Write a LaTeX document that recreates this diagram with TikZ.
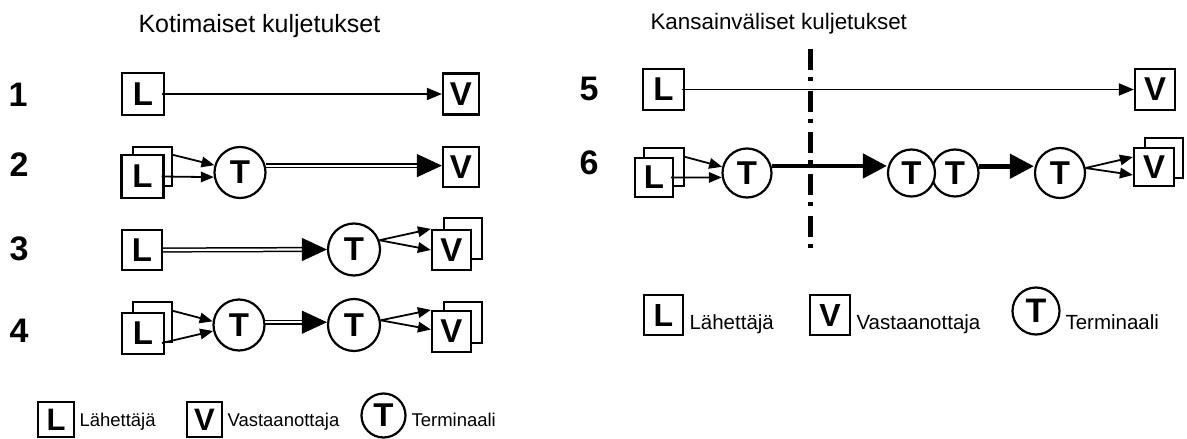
\documentclass[tikz,border=0pt]{standalone}
\usepackage{fontspec}
\setmainfont{Liberation Sans}
\usetikzlibrary{arrows.meta,calc}

\newcommand\fsz[1]{\fontsize{#1}{#1}\selectfont}

\begin{document}
\begin{tikzpicture}[x=1pt,y=-1pt,
  ttl/.style={font=\fsz{25}},
  ttlr/.style={font=\fsz{22.4}},
  num/.style={font=\fsz{34}\bfseries},
  leg/.style={font=\fsz{18.5}},
  legr/.style={font=\fsz{20.5}},
  box/.style={draw, line width=2.2pt, fill=white, inner sep=0pt, font=\fsz{33}\bfseries},
  sz/.style 2 args={minimum width=#1pt, minimum height=#2pt},
  circ/.style={circle, draw, line width=2.2pt, fill=white, inner sep=0pt, font=\fsz{33}\bfseries},
  thin/.style={line width=1.8pt, -{Triangle[length=13pt,width=10.5pt]}},
  longthin/.style={line width=1.8pt, -{Triangle[length=15pt,width=12pt]}},
  dbl/.style={double, line width=1.5pt, double distance=2.2pt},
  bigtip/.style={line width=1pt, -{Triangle[length=25pt,width=23pt]}},
  heavy/.style={line width=4.8pt, -{Triangle[length=24pt,width=24pt]}},
  border/.style={line width=5pt, dash pattern=on 21pt off 7pt on 4pt off 9.7pt}
]
\useasboundingbox (0,0) rectangle (1187,439);

% ---------- domestic transports ----------
\node[ttl, anchor=base west] (tk) at (135,32) {Kotimaiset kuljetukset};

\node[num] (n1) at (18,94.5) {1};
\node[num] (n2) at (19,164.5) {2};
\node[num] (n3) at (19,248.5) {3};
\node[num] (n4) at (19,331) {4};

% row 1
\node[box, sz={42}{42}] (L1) at (143,94) {L};
\node[box, sz={36}{41}] (V1) at (461,94) {V};
\draw[longthin] ([xshift=-3pt]L1.east) -- (V1.west);

% row 2
\node[box, sz={39}{39}] (L2b) at (152.5,166.5) {};
\node[box, sz={42}{43}] (L2) at (142.5,176.5) {L};
\node[circ, minimum size=51pt] (T2) at (240,172.5) {T};
\node[box, sz={36}{40}] (V2) at (461,167) {V};
\draw[thin] ([yshift=-9pt]L2b.north east) -- (T2.164);
\draw[thin] ([xshift=-3pt]L2.east) -- (T2.190);
\coordinate (e2) at (T2.15 -| V2.west);
\draw[dbl] (T2.15) -- ($(e2)+(-22,0)$);
\draw[bigtip] ($(e2)+(-24,0)$) -- (e2);

% row 3
\node[box, sz={40}{40}] (L3) at (142,250) {L};
\node[circ, minimum size=52pt] (T3) at (354,249.5) {T};
\node[box, sz={38}{41}] (V3b) at (463,238.5) {};
\node[box, sz={39}{40}] (V3) at (451.5,250) {V};
\draw[dbl] (L3.east) -- ($(T3.west)+(-22,0)$);
\draw[bigtip] ($(T3.west)+(-24,0)$) -- (T3.west);
\draw[thin] (T3.20) -- (V3.north west);
\draw[thin] (T3.20) -- (V3.west);

% row 4
\node[box, sz={39}{40}] (L4b) at (152.5,322) {};
\node[box, sz={42}{41}] (L4) at (143,333.5) {L};
\node[circ, minimum size=51pt] (T4a) at (239,325) {T};
\node[circ, minimum size=52pt] (T4b) at (354,325) {T};
\node[box, sz={38}{41}] (V4b) at (463,322.5) {};
\node[box, sz={39}{41}] (V4) at (451.5,331.5) {V};
\draw[thin] ([yshift=-10pt]L4b.north east) -- (T4a.172);
\draw[thin] ([xshift=-3pt,yshift=-9.5pt]L4.east) -- (T4a.193);
\coordinate (e4) at (T4a.6 -| T4b.west);
\draw[dbl] (T4a.6) -- ($(e4)+(-22,0)$);
\draw[bigtip] ($(e4)+(-24,0)$) -- (e4);
\draw[thin] (T4b.10) -- (V4.north west);
\draw[thin] (T4b.10) -- ([yshift=2pt]V4.west);

% ---------- international transports ----------
\node[ttlr, anchor=base west] (tm) at (647,30) {Kansainväliset kuljetukset};

\node[num] (n5) at (589,89) {5};
\node[num] (n6) at (589,163) {6};

% row 5
\node[box, sz={41}{41}] (L5) at (663.5,89.5) {L};
\node[box, sz={40}{41}] (V5) at (1155,89.5) {V};
\draw[longthin] ([xshift=-3pt]L5.east) -- (V5.west);

% row 6
\node[box, sz={40}{38}] (L6b) at (664,167) {};
\node[box, sz={38}{39}] (L6) at (654,177.5) {L};
\node[circ, minimum size=49pt] (T6a) at (747,173) {T};
\node[circ, minimum size=47pt] (T6c) at (955,173) {T};
\node[circ, minimum size=47pt] (T6b) at (911.5,173) {T};
\node[circ, minimum size=50pt] (T6d) at (1060,173) {T};
\node[box, sz={38}{40}] (V6b) at (1164,158) {};
\node[box, sz={40}{38}] (V6) at (1154,167) {V};
\draw[thin] ([yshift=-10pt]L6b.north east) -- (T6a.166);
\draw[thin] ([xshift=-3pt]L6.east) -- (T6a.190);
\draw[heavy] (T6a.16) -- (T6a.16 -| T6b.west);
\draw[heavy] (T6c.16) -- (T6c.16 -| T6d.west);
\draw[thin] (T6d.11) -- ([yshift=10pt]V6.west);
\draw[thin] (T6d.11) -- ([yshift=-8pt]V6.west);

% border line
\coordinate (bt) at (810,49);
\coordinate (bb) at (810,252);
\draw[border] (bt) -- (bb);

% ---------- keys ----------
\node[box, sz={36}{35}, font=\fsz{31}\bfseries] (kL) at (56,419.5) {L};
\node[leg, anchor=base west] (kLt) at (76,426.5) {Lähettäjä};
\node[box, sz={35}{35}, font=\fsz{31}\bfseries] (kV) at (204.5,419.5) {V};
\node[leg, anchor=base west] (kVt) at (224,426.5) {Vastaanottaja};
\node[circ, minimum size=44pt, font=\fsz{33}\bfseries] (kT) at (383.5,415.5) {T};
\node[leg, anchor=base west] (kTt) at (408,426.5) {Terminaali};

\node[box, sz={39}{40}, font=\fsz{32}\bfseries] (mL) at (663.5,315) {L};
\node[legr, anchor=base west] (mLt) at (686,329) {Lähettäjä};
\node[box, sz={40}{40}, font=\fsz{32}\bfseries] (mV) at (830,315) {V};
\node[legr, anchor=base west] (mVt) at (853,329) {Vastaanottaja};
\node[circ, minimum size=47pt, font=\fsz{34}\bfseries] (mT) at (1036,311) {T};
\node[legr, anchor=base west] (mTt) at (1062,329) {Terminaali};
\end{tikzpicture}
\end{document}
